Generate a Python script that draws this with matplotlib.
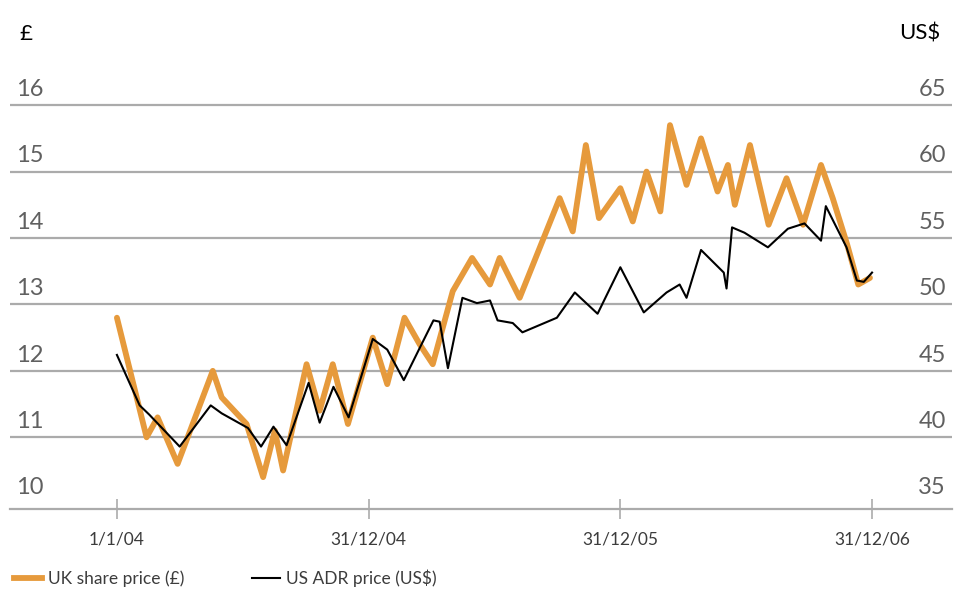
import pandas as pd
import matplotlib
matplotlib.use("Agg")
import matplotlib.pyplot as plt
import matplotlib.transforms as mtransforms
from matplotlib.lines import Line2D

# ─────────────────────────────────────────────
# 0.  DATA
# ─────────────────────────────────────────────

UK_DATES = [
    "2004-01-01", "2004-02-13", "2004-02-29", "2004-03-29", "2004-05-19", "2004-06-01",
    "2004-07-07", "2004-07-31", "2004-08-17", "2004-08-29", "2004-10-02", "2004-10-21",
    "2004-11-09", "2004-12-01", "2005-01-06", "2005-01-27", "2005-02-21", "2005-03-15",
    "2005-04-03", "2005-05-02", "2005-05-30", "2005-06-25", "2005-07-09", "2005-08-07",
    "2005-10-04", "2005-10-23", "2005-11-11", "2005-11-30", "2005-12-31", "2006-01-18",
    "2006-02-07", "2006-02-27", "2006-03-13", "2006-04-06", "2006-04-27", "2006-05-21",
    "2006-06-05", "2006-06-15", "2006-07-07", "2006-08-03", "2006-08-29", "2006-09-22",
    "2006-10-18", "2006-11-04", "2006-11-25", "2006-12-11", "2006-12-28",
]
UK_PRICE = [
    12.8, 11.0, 11.3, 10.6, 12.0, 11.6,
    11.2, 10.4, 11.1, 10.5, 12.1, 11.4,
    12.1, 11.2, 12.5, 11.8, 12.8, 12.4,
    12.1, 13.2, 13.7, 13.3, 13.7, 13.1,
    14.6, 14.1, 15.4, 14.3, 14.75, 14.25,
    15.0, 14.4, 15.7, 14.8, 15.5, 14.7,
    15.1, 14.5, 15.4, 14.2, 14.9, 14.2,
    15.1, 14.6, 13.9, 13.3, 13.4,
]

US_DATES = [
    "2004-01-01", "2004-02-03", "2004-02-17", "2004-04-01", "2004-05-16", "2004-06-01",
    "2004-07-09", "2004-07-28", "2004-08-15", "2004-09-03", "2004-10-05", "2004-10-21",
    "2004-11-10", "2004-12-02", "2005-01-06", "2005-01-27", "2005-02-20", "2005-03-12",
    "2005-04-04", "2005-04-13", "2005-04-25", "2005-05-16", "2005-06-06", "2005-06-25",
    "2005-07-06", "2005-07-28", "2005-08-11", "2005-09-30", "2005-10-26", "2005-11-28",
    "2005-12-31", "2006-02-03", "2006-03-08", "2006-03-27", "2006-04-06", "2006-04-27",
    "2006-05-30", "2006-06-03", "2006-06-11", "2006-06-29", "2006-08-02", "2006-08-31",
    "2006-09-24", "2006-10-18", "2006-10-25", "2006-11-24", "2006-12-09", "2006-12-19",
    "2006-12-31",
]
US_PRICE = [
    46.2, 42.4, 41.7, 39.3, 42.4, 41.8,
    40.7, 39.3, 40.8, 39.4, 44.1, 41.1,
    43.8, 41.5, 47.4, 46.6, 44.3, 46.4,
    48.8, 48.7, 45.2, 50.5, 50.1, 50.3,
    48.8, 48.6, 47.9, 49.0, 50.9, 49.3,
    52.8, 49.4, 50.9, 51.5, 50.5, 54.1,
    52.4, 51.2, 55.8, 55.4, 54.3, 55.7,
    56.1, 54.8, 57.4, 54.3, 51.8, 51.7,
    52.4,
]

GBP_TICKS = [10, 11, 12, 13, 14, 15, 16]
USD_TICKS = [35, 40, 45, 50, 55, 60, 65]
GRID_TICKS = [11, 12, 13, 14, 15, 16]
X_TICKS = ["2004-01-01", "2004-12-31", "2005-12-31", "2006-12-31"]
X_LABELS = ["1/1/04", "31/12/04", "31/12/05", "31/12/06"]

# ─────────────────────────────────────────────
# 1.  STYLE
# ─────────────────────────────────────────────

ORANGE = "#E69A3C"
GRID = "#ABABAB"
LABEL = "#606060"
FONT = ["Lato", "DejaVu Sans"]

plt.rcParams["font.family"] = FONT

fig = plt.figure(figsize=(9.55, 5.89), dpi=100, facecolor="white")
ax = fig.add_axes([0.0105, 0.1358, 0.9864, 0.7623])
ax2 = ax.twinx()

GBP_LIM = (9.92, 16.68)
ax.set_ylim(*GBP_LIM)
ax2.set_ylim(GBP_LIM[0] * 5 - 15, GBP_LIM[1] * 5 - 15)
ax.set_xlim(pd.Timestamp("2003-07-30"), pd.Timestamp("2007-04-26"))

for a in (ax, ax2):
    for side in ("top", "left", "right"):
        a.spines[side].set_visible(False)
    a.set_yticks([])
ax2.spines["bottom"].set_visible(False)
ax.spines["bottom"].set_color(GRID)
ax.spines["bottom"].set_linewidth(1.6)

for g in GRID_TICKS:
    ax.axhline(g, color=GRID, lw=1.6, zorder=0)

# ── lines ──
ax.plot(pd.to_datetime(UK_DATES), UK_PRICE, color=ORANGE, lw=4.2,
        solid_joinstyle="round", solid_capstyle="round", zorder=2)
ax2.plot(pd.to_datetime(US_DATES), US_PRICE, color="black", lw=1.5,
         solid_joinstyle="round", zorder=3)
ax2.set_zorder(ax.get_zorder() + 1)
ax2.patch.set_visible(False)

# ── x ticks ──
ax.set_xticks(pd.to_datetime(X_TICKS))
ax.set_xticklabels(X_LABELS, fontsize=12.5, color="#3C3C3C")
ax.tick_params(axis="x", direction="inout", length=14, width=1.2, color=GRID, pad=9)

# ── y labels sitting above the gridlines ──
tl = mtransforms.blended_transform_factory(ax.transAxes, ax.transData)
tr = mtransforms.blended_transform_factory(ax.transAxes, ax2.transData)
for v in GBP_TICKS:
    ax.text(0.006, v + 0.14, str(v), transform=tl, ha="left", va="baseline",
            fontsize=17, color=LABEL)
for v in USD_TICKS:
    ax.text(0.9935, v + 0.7, str(v), transform=tr, ha="right", va="baseline",
            fontsize=17, color=LABEL)

fig.text(0.027, 0.943, "£", ha="center", va="center", fontsize=16, color="black")
fig.text(0.963, 0.943, "US$", ha="center", va="center", fontsize=16, color="black")

# ── legend ──
handles = [Line2D([], [], color=ORANGE, lw=4.2), Line2D([], [], color="black", lw=1.5)]
fig.legend(handles, ["UK share price (£)", "US ADR price (US$)"],
           loc="lower left", bbox_to_anchor=(0.004, -0.014), ncol=2, frameon=False,
           fontsize=12.5, labelcolor="#3C3C3C", handlelength=1.6, handletextpad=0.35,
           columnspacing=3.9, borderaxespad=0.2)

fig.savefig("out.png", dpi=100, facecolor="white")
